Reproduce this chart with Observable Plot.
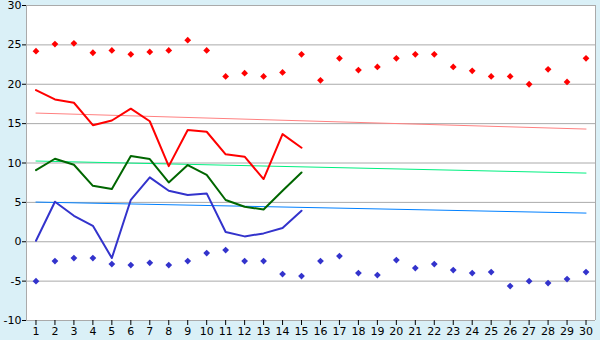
<!DOCTYPE html>
<html>
<head>
<meta charset="utf-8">
<script src="https://cdn.jsdelivr.net/npm/d3@7"></script>
<script src="https://cdn.jsdelivr.net/npm/@observablehq/plot@0.6"></script>
<style>
  html, body { margin: 0; padding: 0; background: #daf0f7; }
  #chart { width: 600px; height: 340px; }
</style>
</head>
<body>
<div id="chart"></div>
<script>
const days = d3.range(1, 31);
const recordMax = [24.2, 25.1, 25.2, 24.0, 24.3, 23.8, 24.1, 24.3, 25.6, 24.3,
                   21.0, 21.4, 21.0, 21.5, 23.8, 20.5, 23.3, 21.8, 22.2, 23.3,
                   23.8, 23.8, 22.2, 21.7, 21.0, 21.0, 20.0, 21.9, 20.3, 23.3];
const recordMin = [-5.0, -2.45, -2.07, -2.07, -2.83, -2.96, -2.67, -2.96, -2.45, -1.44,
                   -1.06, -2.45, -2.45, -4.1, -4.36, -2.45, -1.82, -3.98, -4.23, -2.33,
                   -3.34, -2.83, -3.6, -3.98, -3.85, -5.63, -5.0, -5.25, -4.74, -3.85];
const obsDays = d3.range(1, 16);
const maxTemp = [19.26, 18.07, 17.65, 14.8, 15.4, 16.9, 15.3, 9.6, 14.2, 13.97, 11.1, 10.8, 7.96, 13.67, 11.94];
const meanTemp = [9.1, 10.54, 9.78, 7.1, 6.69, 10.88, 10.5, 7.53, 9.74, 8.5, 5.3, 4.44, 4.1, 6.48, 8.8];
const minTemp = [0.13, 5.08, 3.3, 2.03, -2.07, 5.33, 8.17, 6.48, 5.93, 6.14, 1.23, 0.68, 1.06, 1.74, 3.94];
const normalDays = [1, 30];
const normalMax = [16.34, 14.31];
const normalMean = [10.25, 8.72];
const normalMin = [5.04, 3.64];
const yTicks = [-10, -5, 0, 5, 10, 15, 20, 25, 30];

const rec = days.map((d, i) => ({day: d, hi: recordMax[i], lo: recordMin[i]}));
const obs = obsDays.map((d, i) => ({day: d, max: maxTemp[i], mean: meanTemp[i], min: minTemp[i]}));
const norm = normalDays.map((d, i) => ({day: d, max: normalMax[i], mean: normalMean[i], min: normalMin[i]}));

// square diamond glyph (equal width and height)
const squareDiamond = {
  draw(context, size) {
    const h = Math.sqrt(size / 2);
    context.moveTo(0, -h);
    context.lineTo(h, 0);
    context.lineTo(0, h);
    context.lineTo(-h, 0);
    context.closePath();
  }
};

const chart = Plot.plot({
  width: 600,
  height: 340,
  marginLeft: 26,
  marginRight: 5,
  marginTop: 5,
  marginBottom: 20,
  style: {background: "transparent", fontFamily: "DejaVu Sans", fontSize: "11px", color: "#000"},
  x: {domain: [0.5, 30.5], axis: null, label: null},
  y: {domain: [-10, 30], axis: null, label: null},
  marks: [
    Plot.frame({fill: "white", stroke: "none"}),
    Plot.ruleY(yTicks, {stroke: "#aaaaaa", strokeWidth: 1}),
    Plot.ruleX([0.5, 30.5], {stroke: "#aaaaaa", strokeWidth: 1}),
    Plot.axisX(days, {tickSize: 5, tickPadding: 2, stroke: "#000", fill: "#000", fontSize: 11, label: null, tickFormat: d => String(d)}),
    Plot.axisY(yTicks, {tickSize: 4, tickPadding: 1, stroke: "#000", fill: "#000", fontSize: 11, label: null, tickFormat: d => (d < 0 ? "-" : "") + Math.abs(d)}),
    Plot.line(norm, {x: "day", y: "max", stroke: "#ff8080", strokeWidth: 1}),
    Plot.line(norm, {x: "day", y: "mean", stroke: "#00f080", strokeWidth: 1}),
    Plot.line(norm, {x: "day", y: "min", stroke: "#0080ff", strokeWidth: 1}),
    Plot.line(obs, {x: "day", y: "max", stroke: "#ff0000", strokeWidth: 2}),
    Plot.line(obs, {x: "day", y: "mean", stroke: "#006600", strokeWidth: 2}),
    Plot.line(obs, {x: "day", y: "min", stroke: "#3333cc", strokeWidth: 2}),
    Plot.dot(rec, {x: "day", y: "hi", symbol: squareDiamond, r: 2.7, fill: "#ff0000"}),
    Plot.dot(rec, {x: "day", y: "lo", symbol: squareDiamond, r: 2.7, fill: "#3333cc"})
  ]
});
document.getElementById("chart").appendChild(chart);
</script>
</body>
</html>
